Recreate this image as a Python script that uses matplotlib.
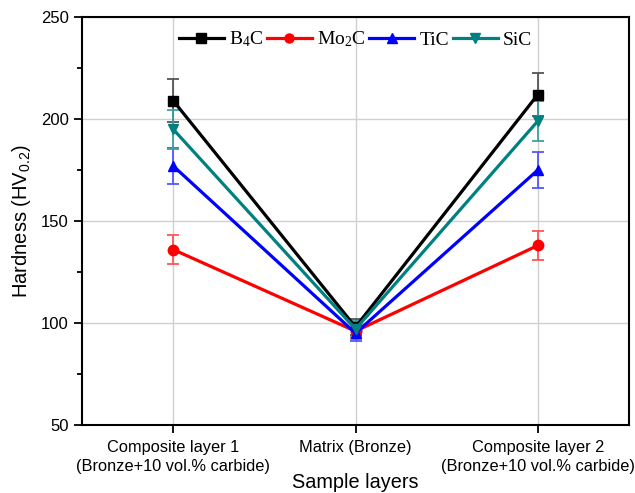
import matplotlib
matplotlib.use("Agg")
import matplotlib.pyplot as plt
from matplotlib.ticker import MultipleLocator
from matplotlib.lines import Line2D
import numpy as np

# data
layers = ["Composite layer 1\n(Bronze+10 vol.% carbide)",
          "Matrix (Bronze)",
          "Composite layer 2\n(Bronze+10 vol.% carbide)"]
series_names = ["B$\\mathregular{_4}$C", "Mo$\\mathregular{_2}$C", "TiC", "SiC"]
b4c = [209, 98, 212]
b4c_err = [10.5, 4, 10.5]
mo2c = [136, 96, 138]
mo2c_err = [7, 4, 7]
tic = [177, 95, 175]
tic_err = [9, 4, 9]
sic = [195, 97, 199]
sic_err = [9.5, 4, 10]

values = [b4c, mo2c, tic, sic]
errors = [b4c_err, mo2c_err, tic_err, sic_err]
colors = ["#000000", "#ff0000", "#0000ff", "#008080"]
err_colors = ["#555555", "#ff5555", "#5555ff", "#40a0a0"]
markers = ["s", "o", "^", "v"]

plt.rcParams['font.family'] = ['Liberation Sans', 'DejaVu Sans']

fig = plt.figure(figsize=(6.35, 4.93), dpi=100)
ax = fig.add_axes([82/635, 1 - 425/493, 547/635, 408/493])

x = np.arange(1, len(layers) + 1)

handles = []
for v, e, c, ec, m, name in zip(values, errors, colors, err_colors, markers, series_names):
    ax.errorbar(x, v, yerr=e, color=c, ecolor=ec, elinewidth=1.3, capsize=4,
                capthick=1.3, marker=m, markersize=7.5, linewidth=2.3)
    handles.append(Line2D([], [], color=c, marker=m, markersize=6.5,
                          linewidth=2.3, label=name))

ax.set_xlim(0.5, 3.5)
ax.set_ylim(50, 250)
ax.set_xticks(x)
ax.set_xticklabels(layers, fontsize=11.8, linespacing=1.35)
ax.yaxis.set_major_locator(MultipleLocator(50))
ax.yaxis.set_minor_locator(MultipleLocator(25))
ax.tick_params(axis='y', labelsize=12, direction='out', length=6, width=1.3)
ax.tick_params(axis='y', which='minor', direction='out', length=3.5, width=1.3)
ax.tick_params(axis='x', direction='out', length=6, width=1.3, pad=5)
ax.tick_params(top=False, right=False)
ax.grid(True, color='#d0d0d0', linewidth=1)
ax.set_axisbelow(True)
for s in ax.spines.values():
    s.set_linewidth(1.5)

ax.set_ylabel("Hardness (HV$\\mathregular{_{0.2}}$)", fontsize=14.5, labelpad=6)
ax.set_xlabel("Sample layers", fontsize=14.3, labelpad=-1)

leg = ax.legend(handles=handles, loc='upper center', ncol=4, frameon=False,
                prop={'family': 'Liberation Serif', 'size': 14},
                handlelength=2.3, handletextpad=0.27, columnspacing=0.2,
                borderaxespad=0.25, bbox_to_anchor=(0.5, 1.0))

fig.savefig("out.png", dpi=100)
